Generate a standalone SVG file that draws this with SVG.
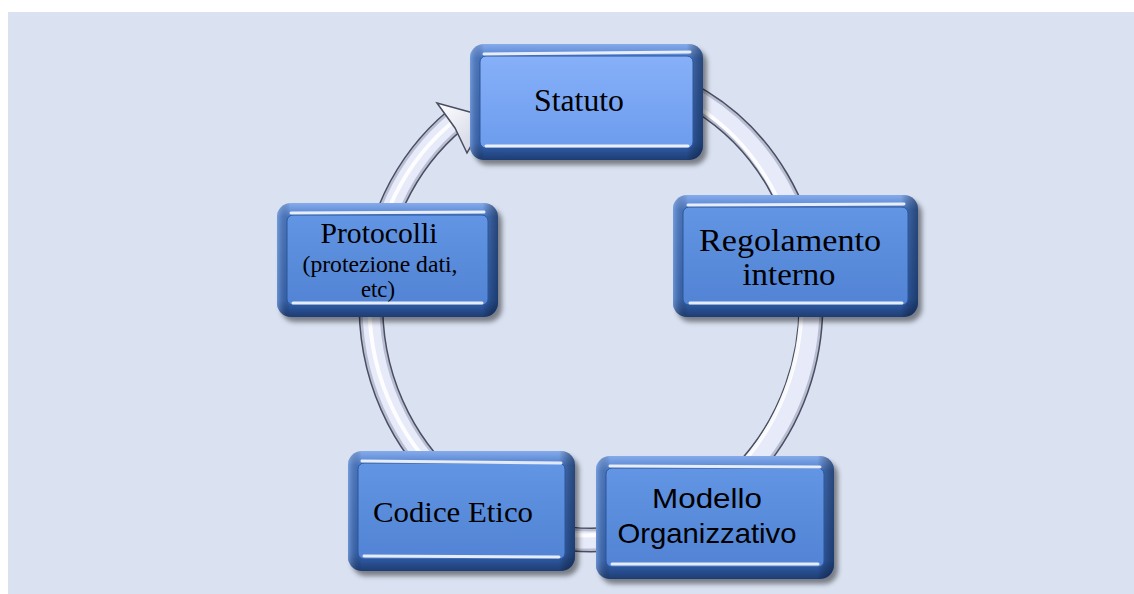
<svg xmlns="http://www.w3.org/2000/svg" width="1134" height="594" viewBox="0 0 1134 594">
<defs>
<style>
.serif{font-family:"Liberation Serif","Times New Roman",serif;fill:#000;text-anchor:middle}
.sans{font-family:"Liberation Sans",Arial,sans-serif;fill:#000;text-anchor:middle}
.hl{stroke:#fff;stroke-width:3;stroke-linecap:round;fill:none;opacity:.85}
</style>
<linearGradient id="bevel" x1="0" y1="0" x2="0" y2="1">
<stop offset="0" stop-color="#86ABEB"/>
<stop offset="0.12" stop-color="#4C7DCC"/>
<stop offset="0.85" stop-color="#3566B6"/>
<stop offset="1" stop-color="#1E3C72"/>
</linearGradient>
<linearGradient id="side" x1="0" y1="0" x2="1" y2="0">
<stop offset="0" stop-color="#9DBDF2" stop-opacity=".5"/>
<stop offset="0.06" stop-color="#000" stop-opacity="0"/>
<stop offset="0.93" stop-color="#000" stop-opacity="0"/>
<stop offset="1" stop-color="#0A1A3A" stop-opacity=".55"/>
</linearGradient>
<linearGradient id="face" x1="0" y1="0" x2="0" y2="1">
<stop offset="0" stop-color="#6295E4"/>
<stop offset="1" stop-color="#5283D4"/>
</linearGradient>
<linearGradient id="faceL" x1="0" y1="0" x2="0" y2="1">
<stop offset="0" stop-color="#86B0F8"/>
<stop offset="1" stop-color="#6D9CEE"/>
</linearGradient>
<linearGradient id="arrowG" x1="0" y1="0" x2="1" y2="1">
<stop offset="0" stop-color="#FFFFFF"/>
<stop offset="1" stop-color="#C9CEE0"/>
</linearGradient>
<filter id="shadow" x="-10%" y="-10%" width="125%" height="130%">
<feDropShadow dx="4" dy="5" stdDeviation="2.5" flood-color="#000" flood-opacity=".45"/>
</filter>
</defs>

<rect x="8" y="12" width="1126" height="582" fill="#DAE2F2"/>

<g id="connectors">
<path d="M455.5,119.8 A220,235 0 1 0 610.2,70.9" fill="none" stroke="#4A4E60" stroke-width="25"/>
<path d="M455.5,119.8 A220,235 0 1 0 610.2,70.9" fill="none" stroke="#B9BED2" stroke-width="22"/>
<path d="M455.5,119.8 A220,235 0 1 0 610.2,70.9" fill="none" stroke="#E6EAF9" stroke-width="17"/>
<path d="M455.5,119.8 A216,231 0 1 0 610.2,74.9" fill="none" stroke="#FFFFFF" stroke-width="4" opacity=".9"/>
<polygon points="437,103 488,117 467,153 455,128" fill="url(#arrowG)" stroke="#4A4E60" stroke-width="1.5" stroke-linejoin="miter"/>
</g>

<g id="node-statuto">
<rect x="470" y="44" width="233" height="116" rx="14" fill="url(#bevel)" filter="url(#shadow)"/>
<rect x="470" y="44" width="233" height="116" rx="14" fill="url(#side)"/>
<rect x="480" y="56" width="213" height="92" rx="6" fill="url(#faceL)" stroke="#2E5597" stroke-width="1"/>
<path class="hl" d="M484,54 L690,52"/>
<path class="hl" d="M486,146 L688,146"/>
<text class="serif" x="579" y="111" font-size="31" textLength="90" lengthAdjust="spacingAndGlyphs">Statuto</text>
</g>

<g id="node-regolamento">
<rect x="673" y="195" width="245" height="122" rx="14" fill="url(#bevel)" filter="url(#shadow)"/>
<rect x="673" y="195" width="245" height="122" rx="14" fill="url(#side)"/>
<rect x="683" y="207" width="225" height="98" rx="6" fill="url(#face)" stroke="#2E5597" stroke-width="1"/>
<path class="hl" d="M688,205 L904,204"/>
<path class="hl" d="M690,303 L902,303"/>
<text class="serif" x="790" y="251" font-size="32" textLength="182" lengthAdjust="spacingAndGlyphs">Regolamento</text>
<text class="serif" x="789" y="285" font-size="32" textLength="93" lengthAdjust="spacingAndGlyphs">interno</text>
</g>

<g id="node-protocolli">
<rect x="277" y="203" width="221" height="114" rx="14" fill="url(#bevel)" filter="url(#shadow)"/>
<rect x="277" y="203" width="221" height="114" rx="14" fill="url(#side)"/>
<rect x="287" y="215" width="201" height="90" rx="6" fill="url(#face)" stroke="#2E5597" stroke-width="1"/>
<path class="hl" d="M291,213 L484,212"/>
<path class="hl" d="M293,303 L482,303"/>
<text class="serif" x="379" y="243" font-size="30" textLength="117" lengthAdjust="spacingAndGlyphs">Protocolli</text>
<text class="serif" x="380" y="272" font-size="23" textLength="155" lengthAdjust="spacingAndGlyphs">(protezione dati,</text>
<text class="serif" x="378" y="297" font-size="23" textLength="34" lengthAdjust="spacingAndGlyphs">etc)</text>
</g>

<g id="node-codice">
<rect x="348" y="451" width="227" height="120" rx="14" fill="url(#bevel)" filter="url(#shadow)"/>
<rect x="348" y="451" width="227" height="120" rx="14" fill="url(#side)"/>
<rect x="358" y="463" width="207" height="96" rx="6" fill="url(#face)" stroke="#2E5597" stroke-width="1"/>
<path class="hl" d="M362,461 L561,463"/>
<path class="hl" d="M364,556 L559,557"/>
<text class="serif" x="453" y="522" font-size="30" textLength="160" lengthAdjust="spacingAndGlyphs">Codice Etico</text>
</g>

<g id="node-modello">
<rect x="596" y="456" width="238" height="123" rx="14" fill="url(#bevel)" filter="url(#shadow)"/>
<rect x="596" y="456" width="238" height="123" rx="14" fill="url(#side)"/>
<rect x="606" y="468" width="218" height="99" rx="6" fill="url(#face)" stroke="#2E5597" stroke-width="1"/>
<path class="hl" d="M610,466 L820,467"/>
<path class="hl" d="M612,564 L818,564"/>
<text class="sans" x="707" y="508" font-size="28" textLength="110" lengthAdjust="spacingAndGlyphs">Modello</text>
<text class="sans" x="707" y="543" font-size="28" textLength="179" lengthAdjust="spacingAndGlyphs">Organizzativo</text>
</g>
</svg>
